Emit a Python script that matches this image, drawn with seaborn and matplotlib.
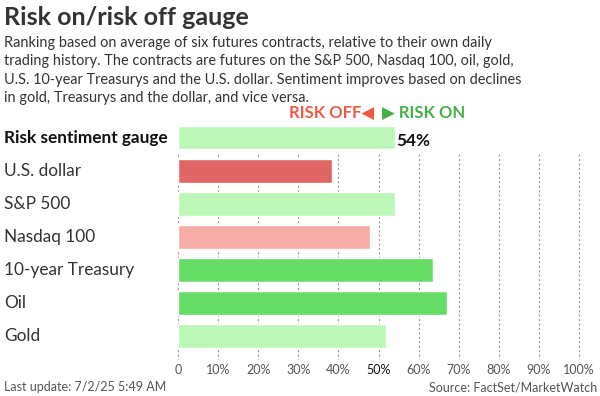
import matplotlib
matplotlib.use("Agg")
import matplotlib.pyplot as plt
import matplotlib.transforms as mtransforms
import seaborn as sns

categories = ["Risk sentiment gauge", "U.S. dollar", "S&P 500", "Nasdaq 100",
              "10-year Treasury", "Oil", "Gold"]
values = [54.0, 38.4, 54.2, 47.9, 63.7, 67.1, 51.8]
bar_colors = ["#bdf7b7", "#e06666", "#bdf7b7", "#f8aca6", "#67dc67", "#67dc67", "#bdf7b7"]
tick_values = list(range(0, 101, 10))
tick_labels = ["0"] + [f"{t}%" for t in tick_values[1:]]

subtitle_lines = [
    "Ranking based on average of six futures contracts, relative to their own daily",
    "trading history. The contracts are futures on the S&P 500, Nasdaq 100, oil, gold,",
    "U.S. 10-year Treasurys and the U.S. dollar. Sentiment improves based on declines",
    "in gold, Treasurys and the dollar, and vice versa.",
]

sns.set_style("white")
plt.rcParams["font.family"] = ["Lato", "DejaVu Sans"]

W, H = 600, 396
fig = plt.figure(figsize=(6, 3.96), dpi=100)


def fy(px):
    return 1 - px / H


ax = fig.add_axes([178 / W, fy(352.5), 401 / W, (352.5 - 121) / H])
sns.barplot(x=values, y=categories, hue=categories, palette=bar_colors, legend=False,
            width=0.72, orient="h", ax=ax, zorder=2, saturation=1)
ax.set_xlim(0, 100)
ax.set_ylim(6.5, -0.5)
ax.vlines(tick_values, 0.5, 6.7, colors="#999999", linestyles=(0, (2, 2)), lw=0.8,
          zorder=0, clip_on=False)
for s in ax.spines.values():
    s.set_visible(False)
ax.set_xticks(tick_values)
ax.set_xticklabels(tick_labels, fontsize=9, color="#555555")
ax.get_xticklabels()[5].set_color("#111111")
ax.tick_params(axis="x", length=0, pad=8)
ax.set_yticks([])
ax.set_xlabel("")
ax.set_ylabel("")

# category labels at the left edge
trans = mtransforms.blended_transform_factory(fig.transFigure, ax.transData)
for i, name in enumerate(categories):
    fig.text(4 / W, i, name, transform=trans, va="center", ha="left",
             fontsize=12.4, color="#111111" if i == 0 else "#333333",
             fontweight="bold" if i == 0 else "normal")

ax.text(values[0] + 0.4, 0.1, f"{values[0]:.0f}%", va="center", ha="left",
        fontsize=12.4, fontweight="bold", color="#111111")

# title block
fig.text(4 / W, fy(25), "Risk on/risk off gauge", fontsize=18, fontweight="bold",
         color="#333333", va="baseline")
for k, line in enumerate(subtitle_lines):
    fig.text(4 / W, fy(47 + 18.4 * k), line, fontsize=10.45, color="#333333",
             va="baseline")

fig.text(374 / W, fy(118), "RISK OFF\u25c0", fontsize=12, fontweight="bold",
         color="#ee5a43", ha="right", va="baseline")
fig.text(382 / W, fy(118), "\u25b6 RISK ON", fontsize=12, fontweight="bold",
         color="#45b045", ha="left", va="baseline")

fig.text(4 / W, fy(391), "Last update: 7/2/25 5:49 AM", fontsize=9, color="#555555",
         va="baseline")
fig.text(597 / W, fy(391), "Source: FactSet/MarketWatch", fontsize=9, color="#555555",
         va="baseline", ha="right")

fig.savefig("out.png", dpi=100)
